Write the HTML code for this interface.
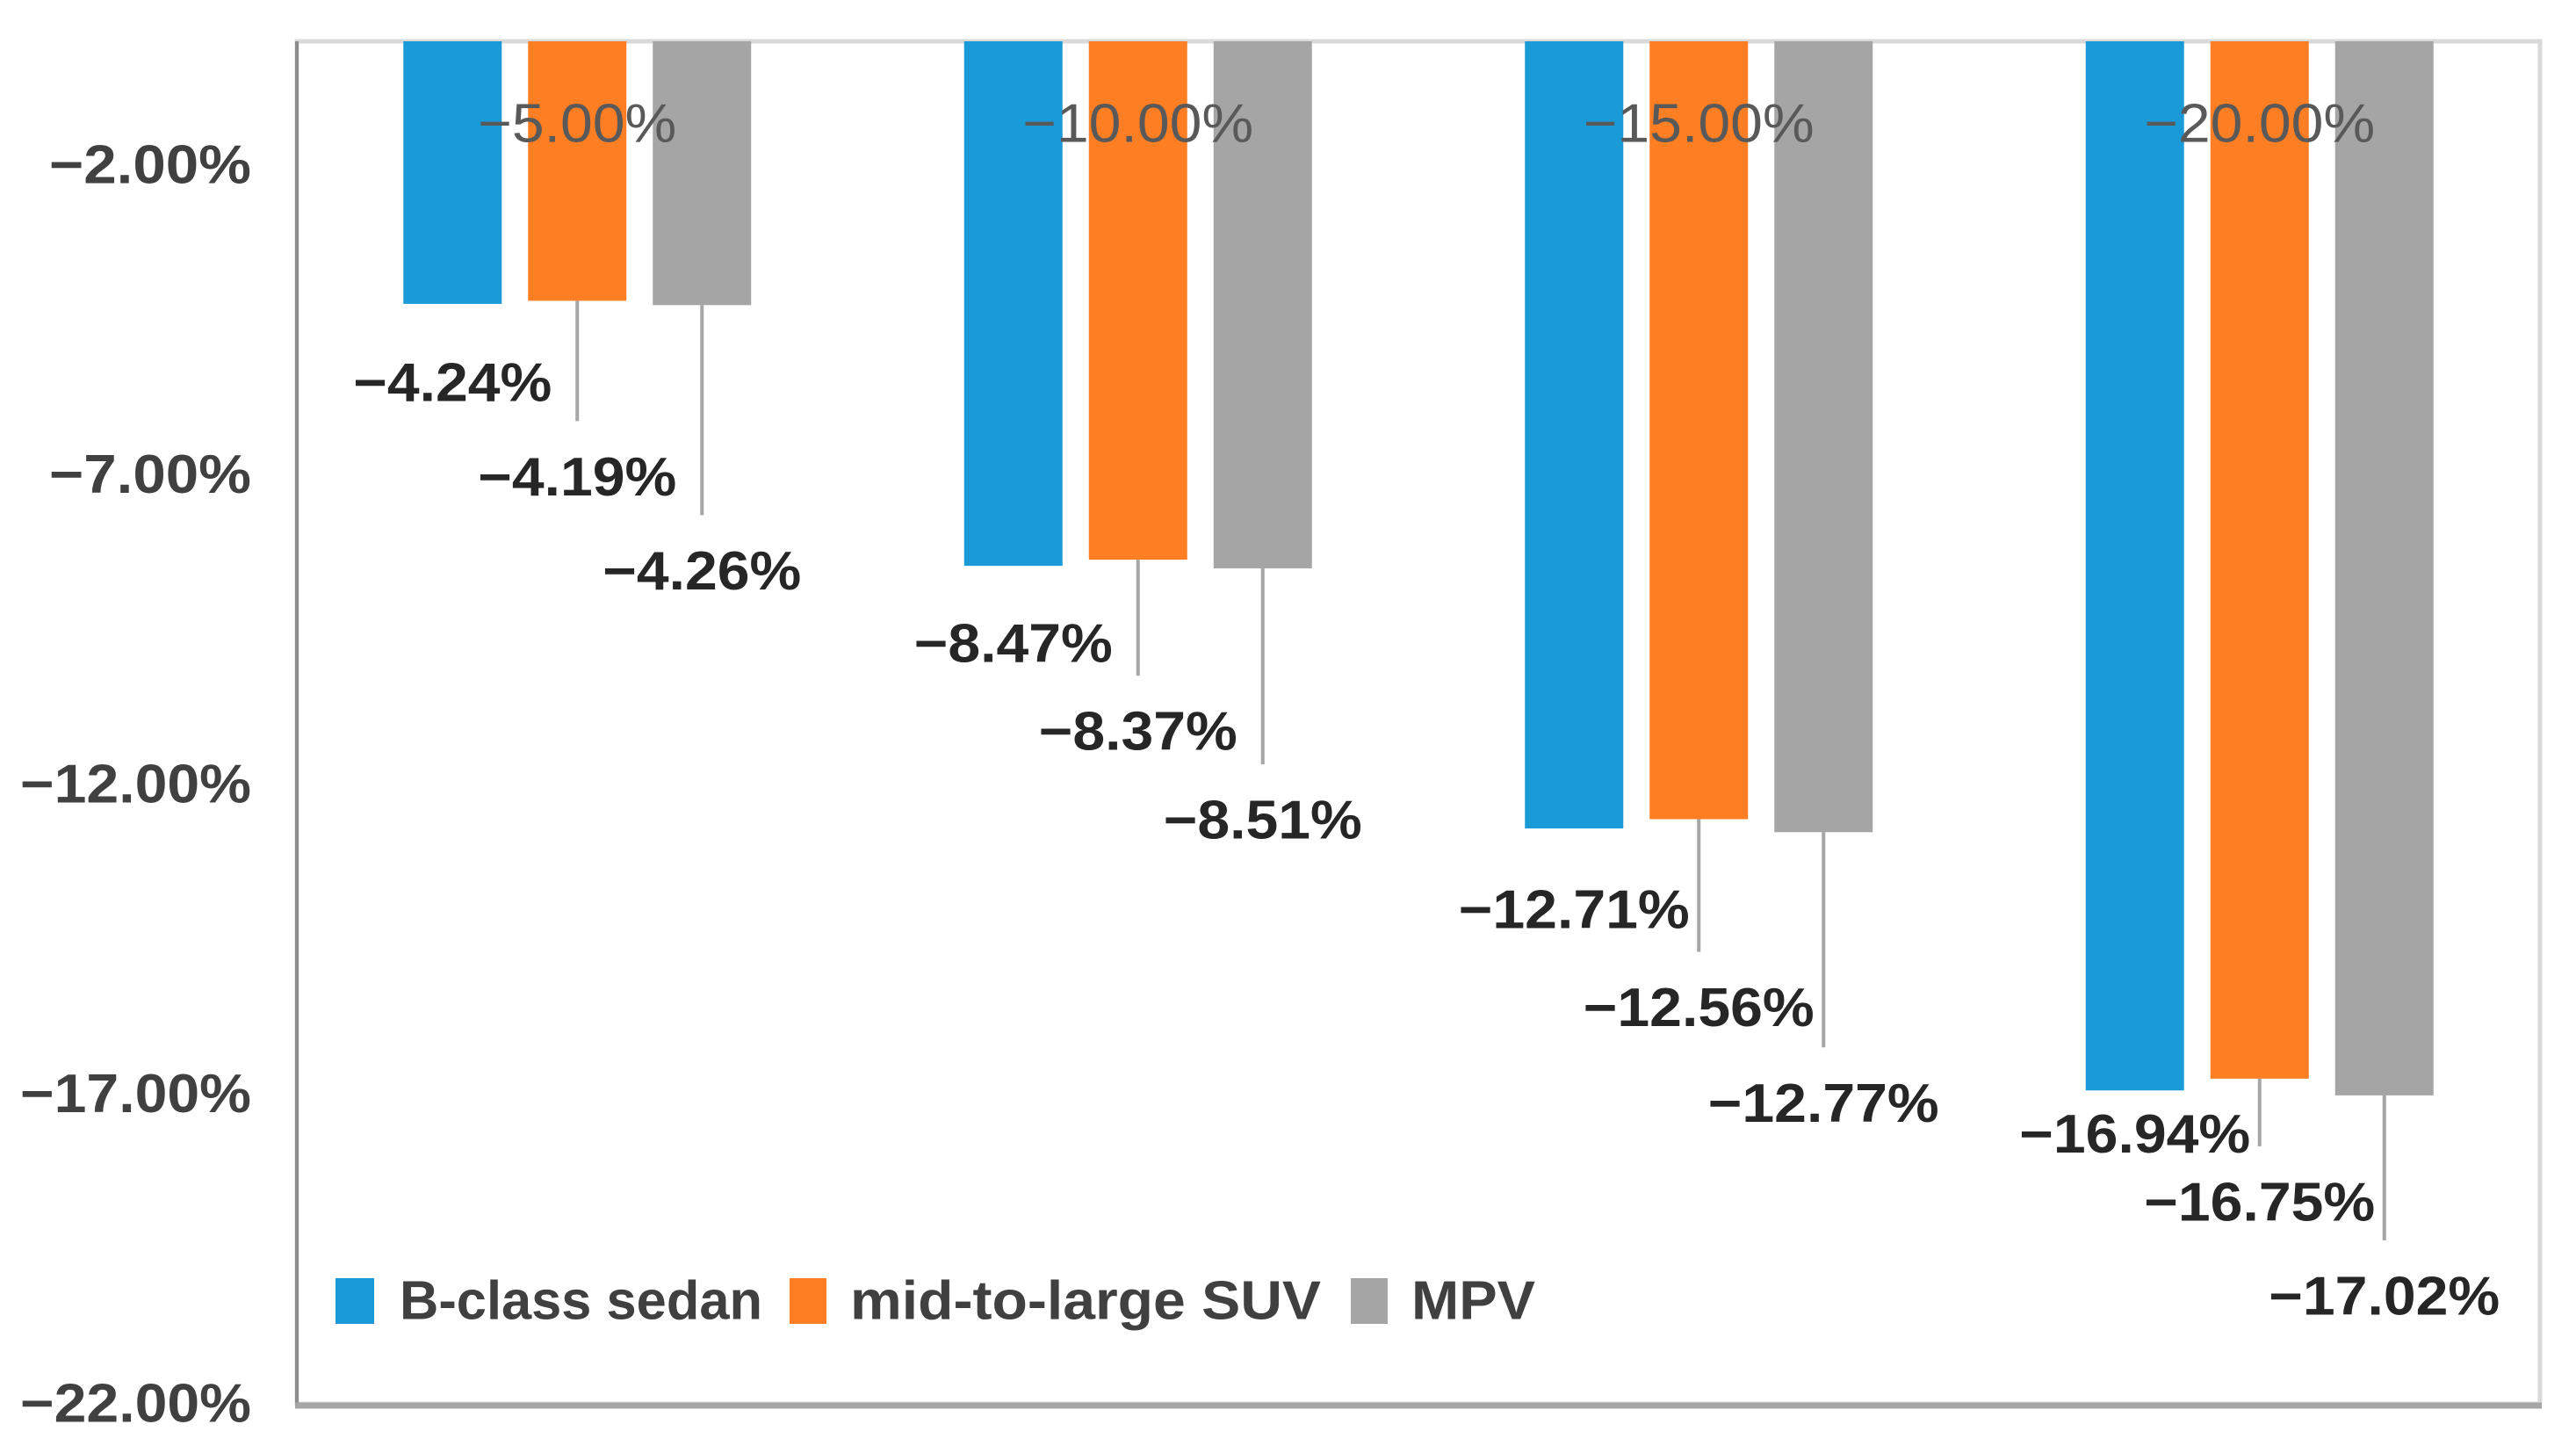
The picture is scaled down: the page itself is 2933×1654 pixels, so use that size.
<!DOCTYPE html>
<html><head><meta charset="utf-8"><title>Chart</title>
<style>html,body{margin:0;padding:0;background:#fff;}svg{display:block;}</style>
</head><body>
<svg id="chart" width="2933" height="1654" viewBox="0 0 2933 1654" xmlns="http://www.w3.org/2000/svg" font-family="'Liberation Sans', sans-serif">
<rect x="338" y="47" width="2554" height="1551" fill="#fff" stroke="#d9d9d9" stroke-width="5"/>
<g id="bars"></g>
<g id="labels"></g>
<line x1="338" y1="47" x2="338" y2="1598" stroke="#8c8c8c" stroke-width="4"/>
<line x1="336" y1="1600" x2="2894" y2="1600" stroke="#a6a6a6" stroke-width="7"/>
<g id="ticks"></g>
<g>
  <rect x="382" y="1455" width="44" height="52" fill="#1a9ad6"/>
  <text x="455" y="1481" dominant-baseline="central" font-size="62" font-weight="bold" fill="#404040" textLength="413" lengthAdjust="spacingAndGlyphs">B-class sedan</text>
  <rect x="899" y="1455" width="42" height="52" fill="#fd7e23"/>
  <text x="968" y="1481" dominant-baseline="central" font-size="62" font-weight="bold" fill="#404040" textLength="536" lengthAdjust="spacingAndGlyphs">mid-to-large SUV</text>
  <rect x="1538" y="1455" width="42" height="52" fill="#a5a5a5"/>
  <text x="1607" y="1481" dominant-baseline="central" font-size="62" font-weight="bold" fill="#404040" textLength="141" lengthAdjust="spacingAndGlyphs">MPV</text>
</g>
</svg>
<script>
const categories = ["−5.00%", "−10.00%", "−15.00%", "−20.00%"];
const seriesNames = ["B-class sedan", "mid-to-large SUV", "MPV"];
const sedanValues = [-4.24, -8.47, -12.71, -16.94];
const suvValues = [-4.19, -8.37, -12.56, -16.75];
const mpvValues = [-4.26, -8.51, -12.77, -17.02];
const tickValues = [-2, -7, -12, -17, -22];
const tickLabels = ["−2.00%", "−7.00%", "−12.00%", "−17.00%", "−22.00%"];

const NS = "http://www.w3.org/2000/svg";
const plotL = 338, plotR = 2892, plotT = 47, plotB = 1598;
const yMin = -22, yMax = 0;
function yScale(v){ return plotT + (yMax - v) / (yMax - yMin) * (plotB - plotT); }
const groupW = (plotR - plotL) / categories.length;
function xCenter(ci, si){ return plotL + groupW * (ci + 0.5) + (si - 1) * 142; }
const barW = 112;
const colors = ["#1a9ad6", "#fd7e23", "#a5a5a5"];
const allSeries = [sedanValues, suvValues, mpvValues];
// label layout offsets (pixels below bar end), per series per category
const labelOffsets = [[90, 89, 93, 50], [201, 196, 215, 141], [303, 287, 309, 229]];
const leaderGap = 64;
const fmt = v => "−" + Math.abs(v).toFixed(2) + "%";

const bars = document.getElementById("bars");
const labels = document.getElementById("labels");
const ticks = document.getElementById("ticks");
function mk(tag, attrs, parent){ const e = document.createElementNS(NS, tag); for (const k in attrs) e.setAttribute(k, attrs[k]); parent.appendChild(e); return e; }

allSeries.forEach((vals, si) => {
  vals.forEach((v, ci) => {
    const cx = xCenter(ci, si);
    const y0 = yScale(0), y1 = yScale(v);
    const r = mk("rect", {x: cx - barW/2, y: y0, width: barW, height: y1 - y0, fill: colors[si]}, bars);
    
    
    const ly = y1 + labelOffsets[si][ci];
    if (labelOffsets[si][ci] > 120) {
      const ln = mk("line", {x1: cx, y1: y1, x2: cx, y2: ly - leaderGap, stroke: "#a6a6a6", "stroke-width": 4}, labels);
      
      
    }
    const t = mk("text", {x: cx, y: ly, "text-anchor": "middle", "dominant-baseline": "central", "font-size": 62, "font-weight": "bold", fill: "#262626"}, labels);
    
    
    t.textContent = fmt(v);
    const w = t.textContent.length > 6 ? 263 : 226;
    t.setAttribute("textLength", w);
    t.setAttribute("lengthAdjust", "spacingAndGlyphs");
  });
});

categories.forEach((c, ci) => {
  const t = mk("text", {x: xCenter(ci, 1), y: 141, "text-anchor": "middle", "dominant-baseline": "central", "font-size": 62, fill: "#595959"}, labels);
  
  
  t.textContent = c;
  t.setAttribute("textLength", c.length > 6 ? 263 : 226);
  t.setAttribute("lengthAdjust", "spacingAndGlyphs");
});

tickValues.forEach((v, i) => {
  const t = mk("text", {x: 286, y: yScale(v), "text-anchor": "end", "dominant-baseline": "central", "font-size": 62, "font-weight": "bold", fill: "#404040"}, ticks);
  
  
  t.textContent = tickLabels[i];
  t.setAttribute("textLength", tickLabels[i].length > 6 ? 263 : 230);
  t.setAttribute("lengthAdjust", "spacingAndGlyphs");
});
</script>
</body></html>
